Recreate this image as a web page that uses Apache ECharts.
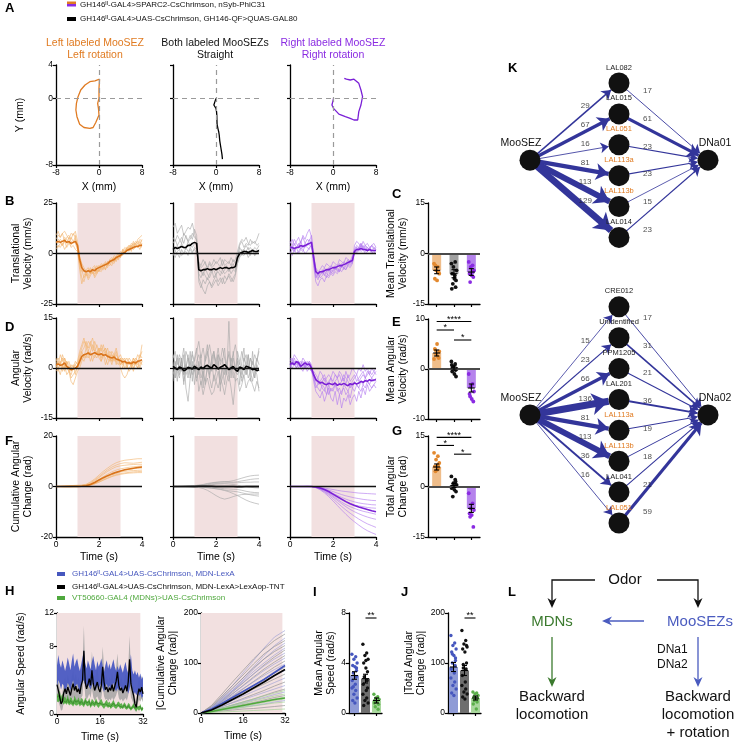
<!DOCTYPE html>
<html><head><meta charset="utf-8"><title>MooSEZ figure</title>
<script src="https://cdn.jsdelivr.net/npm/echarts@6.0.0/dist/echarts.min.js"></script>
<style>html,body{margin:0;padding:0;background:#fff;}#chart{width:736px;height:744px;}</style>
</head><body><div id="chart"></div>
<script>
// ================= DATA =================
// Panel A trajectories (mm)
const trajLeftX = [0.1,0,0,-0.25,-0.1,0,-0.6,-1.1,-1.7,-2.8,-3.6,-4.1,-4.3,-4.2,-3.9,-3.4,-2.6,-1.7,-0.75,0.1];
const trajLeftY = [2.3,1.2,0,-0.6,-1.2,-2.0,-2.9,-3.5,-3.6,-3.5,-3.1,-2.2,-1.4,-0.6,0.2,1.0,1.6,2.0,2.1,2.3];
const trajMidX = [0,-0.2,-0.4,0,0.1,0.15,0.2,0.35,0.5,0.6,0.7,0.9,1.1,1.2];
const trajMidY = [0,-0.4,-0.8,-1.2,-1.6,-2.0,-3.1,-3.6,-4.0,-4.4,-5.1,-5.9,-6.7,-7.3];
const trajRightX = [2.1,2.5,3.2,3.9,4.8,5.2,5.5,5.2,4.8,4.6,3.9,3.2,2.3,1.1,0.1,-0.2,0,0.1];
const trajRightY = [2.4,2.3,2.2,2.3,1.8,1.0,0.2,-0.8,-1.6,-2.6,-2.6,-2.4,-2.2,-1.9,-1.2,-0.8,-0.3,0];

// Panel B translational velocity (mm/s), 0..4 s every 0.1 s
const bOrangeMean = [5.5,6,5.5,6,6.5,5.5,6,5,5.5,6,4, -3,-7,-8.5,-9,-8.5,-9,-8,-8.5,-7.5,-7, -6.5,-6,-5.5,-5,-4,-3.5,-3,-2,-1.5,-1, 0,0.5,1.5,2,2.5,3,3.5,3.5,4,4];
const bOrangeTraces = [
 [7,9,8,10,6,8,9,7,10,8,3, -6,-12,-14,-10,-13,-11,-9,-12,-10,-8, -9,-7,-8,-5,-6,-4,-5,-2,-3,0, 1,0,3,2,5,4,6,5,7,6],
 [4,3,5,4,6,3,5,4,6,5,2, -2,-5,-7,-9,-8,-10,-7,-6,-9,-8, -5,-6,-4,-6,-3,-2,-4,-1,0,-2, 2,1,3,4,2,5,3,4,2,5],
 [9,11,8,10,11,9,7,10,9,11,6, -4,-9,-8,-11,-9,-7,-10,-8,-6,-9, -7,-5,-8,-4,-5,-6,-2,-3,-1,1, 0,2,1,4,3,6,4,7,8,9],
 [2,4,3,5,2,4,6,3,4,2,1, -5,-8,-12,-10,-11,-8,-9,-10,-7,-6, -8,-6,-5,-7,-4,-3,-2,-4,-1,-2, 1,3,2,1,4,2,3,5,4,3],
 [6,5,7,6,8,7,5,8,6,7,5, -1,-6,-9,-8,-7,-10,-9,-11,-8,-9, -6,-7,-6,-4,-5,-3,-4,-2,-3,0, -1,1,2,3,1,4,5,3,6,4],
 [5,7,6,4,7,5,8,6,5,9,2, -8,-15,-11,-9,-12,-10,-8,-7,-10,-6, -7,-8,-5,-6,-3,-4,-1,-2,0,-1, 2,0,3,2,4,3,5,6,4,7]];
const bBlackMean = [2,3,2.5,3,3.5,3,3,4,4,5,5.5, 5,-8,-8.5,-8,-8,-7.5,-8,-8,-7.5,-8, -7.5,-7,-7.5,-7,-7,-7.5,-7,-7,-6.5,-2, 0,0.5,1,1,0.5,1,1.5,1,1,1.5];
const bGrayTraces = [
 [13,15,10,12,14,9,11,13,12,15,10, 6,-12,-15,-18,-20,-16,-14,-17,-15,-13, -16,-14,-12,-15,-13,-11,-14,-12,-10,-3, 4,6,3,5,4,7,5,6,4,5],
 [0,-2,1,2,-1,0,3,1,2,0,3, 2,-5,-7,-6,-4,-8,-5,-7,-6,-4, -5,-7,-3,-6,-5,-4,-6,-3,-5,0, 1,-1,2,0,1,-1,2,1,0,2],
 [5,7,4,6,8,5,9,6,7,10,8, 7,-10,-12,-9,-11,-13,-10,-8,-12,-10, -9,-11,-8,-10,-9,-7,-10,-8,-9,-4, -1,2,0,1,3,0,2,-1,1,0],
 [3,1,4,2,5,3,2,6,4,3,5, 4,-6,-9,-11,-7,-10,-12,-9,-8,-11, -7,-9,-10,-8,-6,-9,-7,-5,-8,-2, 3,1,2,4,2,3,1,3,2,4],
 [8,6,9,7,5,10,8,6,9,7,12, 9,-14,-17,-13,-15,-12,-14,-16,-13,-11, -14,-12,-15,-11,-13,-10,-12,-14,-11,-5, -2,0,-1,1,-2,0,1,-1,0,1],
 [-1,1,0,-2,2,0,1,-1,3,1,2, 0,-4,-6,-3,-5,-7,-4,-6,-3,-5, -4,-2,-6,-3,-4,-5,-2,-4,-3,1, 5,7,6,8,5,4,6,5,7,10]];
const bPurpleMean = [3,3,2.5,3,3,4,3.5,4,4.5,5,5.5, -2,-9,-10,-9,-9,-8.5,-8,-8,-7.5,-7, -7,-6.5,-6,-6,-5.5,-5,-4.5,-4,-3.5,1, 2,2,2.5,2,2,1.5,2,1.5,1.5,1.5];
const bPurpleTraces = [
 [5,7,4,6,8,5,9,7,10,12,8, -6,-14,-16,-13,-12,-14,-11,-12,-10,-11, -9,-10,-8,-9,-7,-8,-6,-7,-5,2, 4,3,5,2,4,3,2,4,3,2],
 [1,-1,2,0,1,3,2,0,1,3,4, -1,-7,-9,-8,-6,-7,-5,-6,-7,-4, -5,-6,-3,-4,-5,-2,-3,-4,-1,1, 3,1,4,2,3,1,2,0,1,0],
 [6,4,7,5,3,6,8,5,7,6,9, 0,-10,-12,-11,-9,-10,-12,-8,-9,-10, -8,-7,-9,-6,-7,-8,-5,-6,-4,4, 6,5,3,6,4,5,3,4,5,3],
 [2,4,1,3,5,2,4,3,5,4,6, -3,-8,-11,-9,-10,-7,-9,-8,-6,-7, -8,-6,-5,-7,-4,-5,-3,-4,-2,0, 1,3,2,4,1,3,2,4,2,3],
 [4,2,5,3,4,6,3,5,4,7,5, -4,-12,-10,-12,-11,-9,-10,-11,-8,-9, -7,-8,-9,-6,-7,-5,-6,-4,-5,1, 3,2,5,3,4,2,3,1,3,2],
 [0,2,1,3,0,2,1,4,3,2,5, -5,-11,-13,-10,-8,-11,-9,-7,-10,-8, -6,-9,-7,-5,-8,-6,-4,-5,-3,2, 0,3,1,2,0,1,2,1,0,2]];

// Panel D angular velocity (rad/s), 0..4 s every 0.1 s
const dOrangeMean = [1,1.2,0.8,1,1.5,0.5,0,-0.5,-0.3,0,0.5, 2,3.5,4,4.2,4.5,4,4.3,4.6,4.2,4, 4.3,3.8,4,3.5,3.2,3,3.3,2.7,2.5,2.2, 1.8,2,1.5,1.6,1.3,1.8,1.5,2,2.2,2.5];
const dOrangeTraces = [
 [2,3,1,4,2,0,-1,-2,0,1,2, 5,7,9,6,8,7,5,8,6,4, 7,5,6,3,5,4,2,4,3,1, 3,2,0,2,1,3,2,4,3,5],
 [-1,0,-2,1,-1,2,0,-3,-2,-1,0, 1,3,2,4,3,5,2,4,3,5, 2,4,3,1,3,2,4,1,3,0, -2,-3,-2,0,1,-1,2,0,1,2],
 [3,1,4,2,3,1,2,0,1,-2,1, 3,5,6,8,5,7,9,6,4,6, 5,7,4,6,3,5,4,6,3,4, 2,3,1,3,2,0,2,1,3,7],
 [0,2,1,-1,1,-2,-1,-4,-5,-3,-1, 0,2,4,3,5,2,4,3,5,3, 2,4,1,3,2,4,3,2,1,3, 0,2,1,-1,0,2,1,0,2,1],
 [1,-1,2,0,3,1,-1,1,0,2,1, 4,6,8,7,6,8,6,5,7,5, 6,4,5,3,4,2,3,5,2,3, 1,2,3,1,2,1,3,2,4,3],
 [2,0,1,3,0,2,1,-1,0,1,0, 2,5,3,6,4,5,7,5,4,6, 3,5,6,4,3,1,4,2,3,1, 2,0,1,2,0,3,1,2,0,2]];
const dBlackMean = [0.5,0,-0.5,0.3,0,-0.8,-0.5,0.2,0,-0.3,0.5, 0,-0.5,0.3,-0.2,0.5,0.8,0.3,0,1,0.5, -0.3,0.2,0.5,1,0.3,-0.5,0,0.5,-0.5,-1, 0.3,0,-0.5,0.5,0.3,0,-0.5,-0.3,-0.8,-0.5];
const dGrayTraces = [
 [2,-3,4,-1,3,-5,1,-2,5,-4,3, 6,-2,4,-6,3,7,-3,2,5,-1, 4,-7,2,6,-2,14,-3,5,-1,3, -5,2,6,-2,4,-4,5,-3,2,6],
 [-2,1,-4,3,-1,4,-6,-10,-3,2,-5, 1,-7,-4,-8,-5,-3,-6,-8,-7,-4, -6,-3,-5,-8,-4,-2,-6,-11,-4,-3, -7,-5,-2,-6,-4,-3,-5,-7,-4,-6],
 [4,1,3,0,2,-2,5,3,0,4,2, 5,8,3,6,2,4,7,3,5,1, 4,2,6,3,0,5,2,4,7,3, 1,5,2,4,0,3,1,4,2,5],
 [-1,-3,0,-2,1,-4,-1,-3,0,-2,1, -3,-1,-5,-2,-4,0,-3,-6,-2,-4, -1,-5,-3,0,-2,-4,1,-3,-1,-2, 0,-4,-2,1,-3,-1,-4,0,-2,-7],
 [3,5,1,4,2,6,0,3,1,5,-1, 2,4,1,-2,3,5,2,-1,4,2, 6,1,3,-2,2,4,0,3,-1,5, 2,-2,3,1,4,-1,2,0,3,1],
 [-4,2,-1,-3,3,-2,0,4,-3,1,-1, -4,2,-3,-1,-5,1,-2,3,-4,-1, 2,-3,0,-5,1,-2,3,-1,-4,2, -1,-3,1,-2,0,3,-1,-3,1,-1]];
const dPurpleMean = [1,1.5,1,2,1.5,0.5,1,1.5,1,1.2,0, -2,-3.5,-4,-4.5,-4.3,-4.8,-5,-4.6,-4.8,-5, -4.5,-5.2,-4.8,-5,-4.6,-5,-5.3,-4.7,-5,-4.5, -4.8,-4.5,-4,-4.3,-3.8,-4,-3.5,-3.8,-3.6,-3.5];
const dPurpleTraces = [
 [2,3,1,2,0,1,2,0,1,2,0, -4,-7,-8,-9,-7,-10,-8,-6,-9,-10, -7,-11,-8,-12,-9,-10,-8,-11,-9,-8, -10,-7,-9,-6,-8,-5,-7,-6,-5,-6],
 [0,1,2,0,2,1,0,1,-1,0,-1, -1,-2,-3,-1,-2,-4,-3,-2,-3,-1, -2,-3,-1,-2,-4,-1,-3,-2,0,-1, -2,0,-1,1,-1,0,-2,0,-1,0],
 [3,2,4,3,2,1,3,2,1,2,1, -3,-5,-6,-7,-5,-6,-8,-5,-7,-6, -5,-7,-6,-8,-5,-6,-7,-5,-6,-4, -5,-6,-4,-5,-3,-4,-5,-3,-4,-3],
 [1,0,1,2,1,0,-1,1,0,1,-1, -2,-4,-3,-5,-4,-3,-5,-4,-3,-5, -4,-3,-2,-4,-3,-5,-2,-4,-3,-2, -4,-3,-2,-1,-3,-2,-1,-2,-1,-2],
 [2,1,3,1,2,0,1,2,1,0,-1, -3,-6,-5,-4,-6,-7,-5,-8,-6,-7, -5,-6,-8,-7,-6,-8,-7,-9,-6,-7, -5,-6,-7,-5,-6,-4,-5,-6,-5,-4],
 [0,2,1,0,1,2,1,0,2,1,0, -2,-3,-5,-4,-3,-2,-4,-5,-3,-4, -2,-3,-5,-4,-2,-3,-4,-6,-4,-3, -2,-4,-3,-2,-3,-1,-2,-3,-2,-1]];

// Panel F cumulative angular change (rad), 0..4 s every 0.2 s
const fOrangeMean = [0,0,0,0,0,0,0.1,0.3,0.8,1.6,2.6,3.5,4.3,5,5.6,6.1,6.6,6.9,7.2,7.5,7.7];
const fOrangeTraces = [
 [0,0,0,0.1,0.2,0.3,0.5,0.9,1.8,3,4.5,6,7.3,8.5,9.4,10,10.4,10.6,10.8,11,11],
 [0,0,0.1,0.1,0.2,0.3,0.4,0.7,1.4,2.6,3.9,5.3,6.6,7.7,8.5,9.1,9.4,9.3,9.2,9.4,9.6],
 [0,0.1,0.1,0.2,0.3,0.3,0.4,0.6,1.2,2.2,3.5,4.8,6.0,7.0,7.8,8.2,8.4,8.6,8.7,8.8,8.8],
 [0,0,0,0,0.1,0.1,0.2,0.4,0.9,1.7,2.8,3.9,4.9,5.8,6.5,7.0,7.3,7.6,7.8,8.0,8.1],
 [0,0,0,0.1,0.1,0.2,0.2,0.3,0.7,1.3,2.1,3.0,3.9,4.6,5.2,5.7,6.0,6.2,6.3,6.4,6.5],
 [0,0,-0.1,-0.1,0,0.1,0.2,0.3,0.6,1.1,1.8,2.6,3.4,4.1,4.7,5.1,5.4,5.6,5.8,5.9,6.0],
 [0,0.1,0.2,0.3,0.4,0.5,0.5,0.6,0.9,1.5,2.4,3.3,4.2,5.0,5.6,6.1,6.5,6.8,7.0,7.2,7.3],
 [0,0,0,0,0,0.1,0.1,0.2,0.5,1.0,1.7,2.5,3.2,3.9,4.4,4.8,5.1,5.3,5.4,5.5,5.5]];
const fBlackMean = [0,0,0,0,0,0,0.1,0.1,0.1,0.1,0,0,0,0,0,-0.1,-0.1,0,0,0,0];
const fGrayTraces = [
 [0,0,0,0.1,0.2,0.3,0.5,0.8,1.2,1.5,1.7,1.8,1.9,2.0,2.3,2.8,3.3,3.8,4.2,4.4,4.5],
 [0,0,0.1,0.2,0.3,0.4,0.5,0.7,1.0,1.3,1.6,1.8,1.9,1.8,1.7,1.9,2.2,2.5,2.8,3.0,3.1],
 [0,0,0,0,0,0.1,0.2,0.4,0.7,1.0,1.2,1.3,1.4,1.5,1.4,1.5,1.6,1.7,1.7,1.8,1.8],
 [0,0,0,0,-0.1,-0.2,-0.4,-0.8,-1.5,-2.5,-3.6,-4.5,-5.0,-4.6,-4.0,-3.5,-3.2,-3.1,-3.0,-3.0,-3.0],
 [0,0,0,0,0,-0.1,-0.1,-0.2,-0.4,-0.6,-0.9,-1.2,-1.6,-2.1,-2.8,-3.6,-4.5,-5.4,-6.1,-6.6,-7.0],
 [0,0,0,0,0,0,0,-0.1,-0.2,-0.3,-0.5,-0.7,-0.9,-1.0,-1.1,-1.2,-1.5,-1.9,-2.2,-2.4,-2.5],
 [0,0,0,0,0.1,0.1,0.2,0.3,0.5,0.7,0.9,1.0,1.1,1.0,0.8,0.5,0.2,-0.1,-0.3,-0.5,-0.6],
 [0,0,0,0,0,-0.1,-0.2,-0.3,-0.5,-0.7,-0.9,-1.1,-1.4,-1.7,-1.9,-2.1,-2.5,-2.9,-3.3,-3.6,-3.8]];
const fPurpleMean = [0,0,0,0,0,0,-0.2,-0.6,-1.2,-2,-3,-4,-5,-6,-6.8,-7.5,-8.1,-8.6,-9.1,-9.6,-10];
const fPurpleTraces = [
 [0,0,0,0,0,0,-0.1,-0.3,-0.6,-0.9,-1.2,-1.5,-1.8,-2.0,-2.2,-2.4,-2.6,-2.7,-2.8,-2.9,-3.0],
 [0,0,0,0,0,0,-0.2,-0.5,-0.9,-1.4,-2.0,-2.6,-3.2,-3.7,-4.1,-4.5,-4.8,-5.1,-5.3,-5.5,-5.6],
 [0,0,0,0,0.1,0,-0.2,-0.6,-1.2,-1.9,-2.7,-3.5,-4.3,-5.0,-5.6,-6.1,-6.5,-6.8,-7.0,-7.2,-7.3],
 [0,0,0,0,0,0,-0.3,-0.8,-1.5,-2.4,-3.4,-4.4,-5.3,-6.1,-6.8,-7.3,-7.7,-8.0,-8.3,-8.5,-8.6],
 [0,0,0,0,0,0,-0.3,-0.8,-1.6,-2.6,-3.8,-5.0,-6.2,-7.2,-8.0,-8.7,-9.3,-9.8,-10.2,-10.6,-11.0],
 [0,0,0,0,0,0,-0.4,-1.0,-1.9,-3.0,-4.2,-5.5,-6.8,-8.0,-9.1,-10.0,-10.8,-11.5,-12.1,-12.6,-13.0],
 [0,0,0,0,0,0,-0.4,-1.1,-2.1,-3.4,-4.9,-6.4,-7.9,-9.3,-10.6,-11.8,-12.9,-13.9,-14.8,-15.5,-16.2],
 [0,0,0,0,0,-0.1,-0.5,-1.3,-2.5,-4.0,-5.7,-7.5,-9.3,-11.0,-12.6,-14.0,-15.3,-16.5,-17.5,-18.3,-19.0]];

// Panels C, E, G (groups: left, both, right)
const cMeans = [-5, -6, -5.5], cSems = [1, 1.2, 1];
const cDots = [[-3,-4,-5,-6,-7.5,-8,-5.5,-3.5],[-3,-2.5,-4,-5,-6,-7.5,-8,-9,-10,-10.5,-6.5],[-2.5,-3.5,-4,-5,-6,-6.5,-7,-8.5,-5.5]];
const eMeans = [3.2, 0.2, -3.8], eSems = [0.6, 0.4, 0.8];
const eDots = [[2,2.5,3,3.5,4,5,2.2,3.8],[1.5,1,0.5,0,-0.5,-1,-1.5,0.3,-0.2,0.8],[-1,-3,-3.5,-4.5,-5,-6,-6.5,-5.5]];
const gMeans = [5.8, 0.3, -6.5], gSems = [0.9, 0.6, 1.2];
const gDots = [[10,9,8,7,6,5,5.5,4.5,6.5],[3,2,1,0.5,0,-1,-1.5,-3,1.5,-0.5],[-2,-5,-6.5,-7,-8,-8.5,-12,-9]];
const eSig = [[0,2,9.5],[0,1,7.8],[1,2,5.8]], eSigLabels = ['****','*','*'];
const gSig = [[0,2,14.6],[0,1,12.2],[1,2,9.6]], gSigLabels = ['****','*','*'];

// Panel H (angular speed, 0..32 s every 0.5 s)
const hBlueMean = [4.5,5.5,4.8,4.2,5.0,4.6,3.8,4.4,5.2,4.7, 4.0,4.9,5.6,4.3,4.8,5.1,4.4,3.9,4.6,5.3, 5.8,4.7,4.2,5.0,4.5,4.1,4.8,5.4,4.6,4.0, 4.9,4.3,4.7,5.2,4.4,3.8,4.5,5.0,4.2,4.7, 4.1,4.6,5.1,4.3,3.9,4.4,4.0,4.6,4.2,3.7, 4.3,4.8,4.1,3.6,4.2,5.5,4.0,3.5,3.9,3.4, 3.8,3.2,3.6,3.0,3.3];
const hBlueSem = [1.3,1.5,1.2,1.3,1.4,1.2,1.3,1.4,1.5,1.3, 1.2,1.4,1.6,1.3,1.4,1.5,1.3,1.2,1.3,1.4, 1.8,1.3,1.2,1.4,1.3,1.2,1.4,1.5,1.3,1.2, 1.4,1.3,1.3,1.4,1.3,1.2,1.3,1.4,1.2,1.3, 1.2,1.3,1.4,1.3,1.2,1.3,1.2,1.3,1.2,1.2, 1.3,1.4,1.2,1.2,1.3,1.6,1.2,1.2,1.3,1.2, 1.2,1.1,1.2,1.1,1.2];
const hBlackMean = [3.5,2.8,2.0,1.2,1.5,2.5,3.0,2.4,3.2,2.7, 2.2,3.0,3.6,2.8,3.3,2.6,3.0,2.4,3.4,4.0, 7.5,3.8,3.0,3.5,4.2,3.4,5.2,3.6,2.8,3.3, 3.8,3.0,2.6,3.4,5.6,3.8,2.9,3.2,2.6,3.1, 2.8,3.5,2.7,3.3,3.9,5.0,3.4,2.8,3.1,2.5, 2.9,3.4,2.7,3.8,6.5,3.6,2.8,2.2,1.2,0.8, 2.2,3.0,2.6,3.2,2.4];
const hBlackSem = [1.5,1.3,1.0,0.8,1.0,1.2,1.4,1.2,1.5,1.3, 1.1,1.4,1.6,1.3,1.5,1.2,1.4,1.1,1.5,1.8, 3.0,1.7,1.3,1.5,1.8,1.5,2.2,1.6,1.2,1.4, 1.7,1.3,1.1,1.5,2.4,1.7,1.2,1.4,1.1,1.3, 1.2,1.5,1.1,1.4,1.7,2.2,1.5,1.2,1.3,1.0, 1.2,1.5,1.1,1.6,2.8,1.6,1.2,1.0,0.8,0.6, 1.0,1.3,1.1,1.4,1.0];
const hGreenMean = [2.0,1.8,2.2,1.6,1.9,1.5,1.7,1.4,1.8,1.3, 1.6,1.5,1.2,1.7,1.4,1.3,1.6,1.2,1.5,1.4, 1.1,1.6,1.3,1.2,1.5,1.0,1.4,1.3,1.1,1.5, 1.2,1.0,1.3,1.4,1.1,0.9,1.2,1.3,1.0,1.2, 0.9,1.1,1.3,1.0,0.8,1.1,1.2,0.9,1.0,0.8, 1.1,0.9,0.7,1.0,0.9,0.6,0.8,1.0,0.7,0.5, 0.8,0.6,0.9,0.5,0.7];
const hGreenSem = [0.5,0.4,0.6,0.4,0.5,0.4,0.4,0.3,0.5,0.3, 0.4,0.4,0.3,0.5,0.4,0.3,0.4,0.3,0.4,0.4, 0.3,0.4,0.3,0.3,0.4,0.3,0.4,0.3,0.3,0.4, 0.3,0.3,0.3,0.4,0.3,0.3,0.3,0.4,0.3,0.3, 0.3,0.3,0.4,0.3,0.2,0.3,0.3,0.3,0.3,0.2, 0.3,0.3,0.2,0.3,0.3,0.2,0.2,0.3,0.2,0.2, 0.2,0.2,0.3,0.2,0.2];
// H right: |cumulative angular change| sampled every 4 s
const hCumTimes = [0,4,8,12,16,20,24,28,32];
const hCumTraces = [
 [0,12,32,55,80,105,130,152,165],[0,15,38,62,85,108,128,145,158],[0,10,28,48,70,92,115,135,150],
 [0,14,34,55,76,98,118,133,145],[0,8,24,44,66,88,108,126,140],[0,12,30,50,70,90,108,123,135],
 [0,10,26,45,64,83,100,116,130],[0,9,24,42,60,78,96,112,126],[0,11,27,44,61,78,94,108,120],
 [0,8,22,38,55,72,88,102,115],[0,10,24,39,54,70,85,98,110],[0,7,19,33,48,63,78,92,104],
 [0,9,22,35,49,62,75,87,98],[0,6,17,29,42,55,68,80,92],[0,8,19,30,42,53,64,75,85],
 [0,6,15,26,37,48,58,68,78],[0,7,16,25,34,43,52,61,70],[0,5,13,21,29,37,45,54,62],
 [0,6,13,20,27,34,41,48,55],[0,4,10,16,22,28,35,42,48],[0,5,10,15,20,26,31,37,42],
 [0,3,8,12,17,21,26,31,35],[0,3,6,9,12,15,18,22,25],[0,2,4,6,8,9,11,13,15]];
const hCumGreenTraces = [[0,4,10,16,22,28,34,40,45],[0,4,9,14,19,24,29,34,38],[0,3,7,12,16,20,24,28,32],[0,3,6,10,13,17,21,25,28],[0,2,5,8,11,14,17,20,22],[0,1,2,3,4,5,6,7,8]];
const hCumBlueMean = [0,8,19,31,43,55,67,81,95];
const hCumBlackMean = [0,6,16,27,38,50,62,75,87];
const hCumGreenMean = [0,3,7,11,15,19,23,27,30];

// Panels I, J (groups: MDN-LexA, MDN-LexA>TNT, MDNs)
const iMeans = [3.0, 2.75, 1.0], iSems = [0.3, 0.35, 0.2];
const iDots = [[4.7,4.5,4.3,4.0,3.8,3.7,3.4,3.2,2.9,2.6,2.3,2.0,1.8,1.5,1.2,1.0,0.8,3.6,2.1],[5.5,4.8,4.6,4.3,4.0,3.6,3.3,2.9,2.6,2.3,1.8,1.5,1.2,1.0,0.8,0.6,4.2,2.0],[1.5,1.3,1.2,1.1,1.0,0.9,0.7,0.5,0.3,0.8]];
const jMeans = [92, 85, 30], jSems = [9, 10, 4];
const jDots = [[155,140,135,128,122,115,110,100,95,88,80,70,62,55,48,40,35,105,118],[165,145,138,132,128,122,100,97,88,75,62,55,48,42,38,32,28,135,90],[42,40,38,35,32,30,28,25,22,18,8]];
const iSig = [[1,2,7.6]], jSig = [[1,2,190]], ijSigLabels = ['**'];

// Panel K connectivity (synapse counts)
const kTopMids = ['LAL082','LAL015','LAL051','LAL113a','LAL113b','LAL014'];
const kTopIn = [29,67,16,81,113,129];
const kTopOut = [17,61,23,23,15,23];
const kBotMids = ['CRE012','Unidentified','PPM1205','LAL201','LAL113a','LAL113b','LAL041','LAL051'];
const kBotIn = [15,23,66,136,81,113,36,16];
const kBotOut = [17,31,21,36,19,18,21,59];
const kOrangeNames = ['LAL051','LAL113a','LAL113b'];

// ================= STYLE / BUILD =================
const FONT = '"Liberation Sans", Arial, Helvetica, sans-serif';
const ORANGE = '#E07B22', ORANGE_L = '#F2B570', PURPLE = '#7A1FD6', PURPLE_L = '#B37CF0', PURPLE_T = '#8A2BE2';
const GRAY_L = '#A9A9A9', PINK = '#F2E0E0', EDGE = '#33359A';
const BLUE = '#4657BE', GREEN = '#4FA83D';
const option = {animation:false, backgroundColor:'#fff', textStyle:{fontFamily:FONT}, grid:[], xAxis:[], yAxis:[], series:[], graphic:[]};

function addGrid(l,t,w,h){ option.grid.push({left:l,top:t,width:w,height:h}); return option.grid.length-1; }
const LAB = (show,extra)=>Object.assign({show:show,fontSize:8.5,color:'#000',margin:3,fontFamily:FONT},extra||{});
const TICK = (extra)=>Object.assign({show:true,length:3,lineStyle:{color:'#000',width:1.2}},extra||{});
function axisBase(g){ return {gridIndex:g, splitLine:{show:false}, axisLine:{show:true,onZero:false,lineStyle:{color:'#000',width:1.3}}, axisTick:TICK(), axisLabel:LAB(true), nameTextStyle:{fontSize:10.5,color:'#000',lineHeight:12,fontFamily:FONT}}; }
function addX(g,o){ option.xAxis.push(Object.assign(axisBase(g),{type:'value'},o)); return option.xAxis.length-1; }
function addY(g,o){ option.yAxis.push(Object.assign(axisBase(g),{type:'value'},o)); return option.yAxis.length-1; }
function addLine(xi,yi,data,color,width,opacity,z,extra){ option.series.push(Object.assign({type:'line',xAxisIndex:xi,yAxisIndex:yi,data:data,symbol:'none',showSymbol:false,silent:true,z:z,lineStyle:{color:color,width:width,opacity:opacity}},extra||{})); }

const cols = [56,173,290];

// ---- A ----
[[trajLeftX,trajLeftY,ORANGE],[trajMidX,trajMidY,'#000'],[trajRightX,trajRightY,PURPLE]].forEach((tr,c)=>{
  const g = addGrid(cols[c],65,86,100);
  const xi = addX(g,{min:-8,max:8,interval:8,axisLabel:LAB(true),name:'X (mm)',nameLocation:'middle',nameGap:16});
  const yi = addY(g,{min:-8,max:4,axisTick:TICK({customValues:[-8,0,4]}),axisLabel:LAB(c===0,{customValues:[-8,0,4]}),name:c===0?'Y (mm)':'',nameLocation:'middle',nameRotate:90,nameGap:30});
  addLine(xi,yi,tr[0].map((x,i)=>[x,tr[1][i]]),tr[2],1.3,1,3,{
    markLine:{silent:true,symbol:'none',label:{show:false},lineStyle:{type:[5,4],color:'#9a9a9a',width:1.2},data:[{xAxis:0},{yAxis:0}]}});
});

// ---- B, D, F ----
function timeRow(top,h,ymin,ymax,yint,yName,showX,sets,dt){
  sets.forEach((s,c)=>{
    const g = addGrid(cols[c],top,86,h);
    const xi = addX(g,{min:0,max:4,interval:2,axisLabel:LAB(showX),name:showX?'Time (s)':'',nameLocation:'middle',nameGap:14});
    const yi = addY(g,{min:ymin,max:ymax,interval:yint,axisLabel:LAB(c===0),name:c===0?yName:'',nameLocation:'middle',nameRotate:90,nameGap:22});
    addLine(xi,yi,s.mean.map((v,i)=>[i*dt,v]),'#fff',0,0,1,{markArea:{silent:true,itemStyle:{color:PINK},data:[[{xAxis:1},{xAxis:3}]]}});
    s.traces.forEach(tr=>addLine(xi,yi,tr.map((v,i)=>[i*dt,v]),s.light,0.8,0.8,2));
    addLine(xi,yi,s.mean.map((v,i)=>[i*dt,v]),s.dark,1.6,1,3,{
      markLine:{silent:true,symbol:'none',label:{show:false},lineStyle:{type:'solid',color:'#111',width:1.4},data:[{yAxis:0}]}});
  });
}
timeRow(203,101,-25,25,25,'Translational\nVelocity (mm/s)',false,[
  {mean:bOrangeMean,traces:bOrangeTraces,light:ORANGE_L,dark:'#D9731A'},
  {mean:bBlackMean,traces:bGrayTraces,light:GRAY_L,dark:'#000'},
  {mean:bPurpleMean,traces:bPurpleTraces,light:PURPLE_L,dark:PURPLE}],0.1);
timeRow(318,100,-15,15,15,'Angular\nVelocity (rad/s)',false,[
  {mean:dOrangeMean,traces:dOrangeTraces,light:ORANGE_L,dark:'#D9731A'},
  {mean:dBlackMean,traces:dGrayTraces,light:GRAY_L,dark:'#000'},
  {mean:dPurpleMean,traces:dPurpleTraces,light:PURPLE_L,dark:PURPLE}],0.1);
timeRow(436,101,-20,20,20,'Cumulative Angular\nChange (rad)',true,[
  {mean:fOrangeMean,traces:fOrangeTraces,light:ORANGE_L,dark:'#D9731A'},
  {mean:fBlackMean,traces:fGrayTraces,light:GRAY_L,dark:'#000'},
  {mean:fPurpleMean,traces:fPurpleTraces,light:PURPLE_L,dark:PURPLE}],0.2);

// ---- bar panels ----
function errRender(params,api){
  const x=api.value(0), m=api.value(1), s=api.value(2);
  const t=api.coord([x,m+s]), b=api.coord([x,m-s]), c=api.coord([x,m]);
  const st={stroke:'#000',lineWidth:1.1};
  return {type:'group',children:[
    {type:'line',shape:{x1:t[0],y1:t[1],x2:b[0],y2:b[1]},style:st},
    {type:'line',shape:{x1:t[0]-2.5,y1:t[1],x2:t[0]+2.5,y2:t[1]},style:st},
    {type:'line',shape:{x1:b[0]-2.5,y1:b[1],x2:b[0]+2.5,y2:b[1]},style:st},
    {type:'line',shape:{x1:c[0]-3.5,y1:c[1],x2:c[0]+3.5,y2:c[1]},style:st}]};
}
function barPanel(p){
  const g = addGrid(p.left,p.top,p.w,p.h);
  option.xAxis.push(Object.assign(axisBase(g),{type:'category',data:['g1','g2','g3'],axisTick:TICK({alignWithLabel:true}),axisLabel:LAB(false)}));
  const xi = option.xAxis.length-1;
  const yi = addY(g,{min:p.min,max:p.max,interval:p.int,axisLabel:LAB(true),name:p.name,nameLocation:'middle',nameRotate:90,nameGap:p.gap});
  const bs = {type:'bar',xAxisIndex:xi,yAxisIndex:yi,barWidth:p.barW,silent:true,z:2,data:p.means.map((v,i)=>({value:v,itemStyle:{color:p.barCols[i]}}))};
  if(p.zero) bs.markLine = {silent:true,symbol:'none',label:{show:false},lineStyle:{type:'solid',color:'#4a4a4a',width:2},data:[{yAxis:0}]};
  option.series.push(bs);
  const jit=[-2.6,1.2,-0.6,2.6,-1.8,0.4,2,-1.2,1.6,-2.2,0.8];
  p.dots.forEach((arr,k)=>option.series.push({type:'scatter',xAxisIndex:xi,yAxisIndex:yi,silent:true,z:4,symbolSize:p.dotSize,itemStyle:{color:p.dotCols[k],opacity:1},
    data:arr.map((v,j)=>({value:[k,v],symbolOffset:[jit[j%jit.length],0]}))}));
  option.series.push({type:'custom',xAxisIndex:xi,yAxisIndex:yi,silent:true,z:5,data:p.means.map((m,i)=>[i,m,p.sems[i]]),renderItem:errRender});
  if(p.sig){
    option.series.push({type:'custom',xAxisIndex:xi,yAxisIndex:yi,silent:true,z:5,clip:false,encode:{x:[0,1],y:2},data:p.sig,
      renderItem:(params,api)=>{
        const a=api.coord([api.value(0),api.value(2)]), b=api.coord([api.value(1),api.value(2)]);
        return {type:'group',children:[
          {type:'line',shape:{x1:a[0],y1:a[1],x2:b[0],y2:b[1]},style:{stroke:'#000',lineWidth:1.1}},
          {type:'text',style:{text:p.sigLabels[params.dataIndex],x:(a[0]+b[0])/2,y:a[1]+2.5,align:'center',verticalAlign:'bottom',fontSize:9,fontFamily:FONT,fill:'#000'}}]};
      }});
  }
}
const cgBar = ['#EFBD8A','#A0A0A0','#B583EC'], cgDot = ['#E3892F','#111','#8A2BE2'];
barPanel({left:428,top:203,w:52,h:101,min:-15,max:15,int:15,name:'Mean Translational\nVelocity (mm/s)',gap:17,means:cMeans,sems:cSems,dots:cDots,barCols:cgBar,dotCols:cgDot,barW:9,zero:true,dotSize:3.8});
barPanel({left:428,top:319,w:52,h:100,min:-10,max:10,int:10,name:'Mean Angular\nVelocity (rad/s)',gap:17,means:eMeans,sems:eSems,dots:eDots,barCols:cgBar,dotCols:cgDot,barW:9,zero:true,dotSize:3.8,sig:eSig,sigLabels:eSigLabels});
barPanel({left:428,top:436,w:52,h:101,min:-15,max:15,int:15,name:'Total Angular\nChange (rad)',gap:17,means:gMeans,sems:gSems,dots:gDots,barCols:cgBar,dotCols:cgDot,barW:9,zero:true,dotSize:3.8,sig:gSig,sigLabels:gSigLabels});
const ijBar = ['#8F9BD6','#6E6E6E','#A9D79D'], ijDot = [BLUE,'#111','#5BB04A'];
barPanel({left:349,top:613,w:33,h:100,min:0,max:8,int:4,name:'Mean Angular\nSpeed (rad/s)',gap:11,means:iMeans,sems:iSems,dots:iDots,barCols:ijBar,dotCols:ijDot,barW:9,zero:false,dotSize:3.4,sig:iSig,sigLabels:ijSigLabels});
barPanel({left:448,top:613,w:33,h:100,min:0,max:200,int:100,name:'|Total Angular\nChange (rad)|',gap:20,means:jMeans,sems:jSems,dots:jDots,barCols:ijBar,dotCols:ijDot,barW:9,zero:false,dotSize:3.4,sig:jSig,sigLabels:ijSigLabels});

// ---- H left ----
const gHL = addGrid(57,613,86,101);
const xHL = addX(gHL,{min:0,max:32,interval:16,axisLabel:LAB(true),name:'Time (s)',nameLocation:'middle',nameGap:17});
const yHL = addY(gHL,{min:0,max:12,axisTick:TICK({customValues:[0,8,12]}),axisLabel:LAB(true,{customValues:[0,8,12]}),name:'Angular Speed (rad/s)',nameLocation:'middle',nameRotate:90,nameGap:30});
addLine(xHL,yHL,hBlueMean.map((v,i)=>[i*0.5,v]),'#fff',0,0,1,{markArea:{silent:true,itemStyle:{color:PINK},data:[[{xAxis:0},{xAxis:31}]]}});
function band(xi,yi,mean,sem,color,opacity,z){
  option.series.push({type:'custom',xAxisIndex:xi,yAxisIndex:yi,silent:true,z:z,
    data:mean.map((m,i)=>[i*0.5,m-sem[i],m+sem[i]]),encode:{x:0,y:[1,2]},
    renderItem:(params,api)=>{
      if(params.dataIndex!==0) return null;
      const up=[],lo=[];
      mean.forEach((m,i)=>{ up.push(api.coord([i*0.5,m+sem[i]])); lo.push(api.coord([i*0.5,m-sem[i]])); });
      return {type:'polygon',shape:{points:up.concat(lo.reverse())},style:{fill:color,opacity:opacity}};
    }});
}
band(xHL,yHL,hBlackMean,hBlackSem,'#A0A0A0',0.8,2);
band(xHL,yHL,hBlueMean,hBlueSem,'#4A5AC2',0.95,3);
band(xHL,yHL,hGreenMean,hGreenSem,'#55AE43',0.95,4);
addLine(xHL,yHL,hGreenMean.map((v,i)=>[i*0.5,v]),'#3F8F2F',1,1,5);
addLine(xHL,yHL,hBlackMean.map((v,i)=>[i*0.5,v]),'#000',1.3,1,6);

// ---- H right ----
const gHR = addGrid(201,613,84,100);
const xHR = addX(gHR,{min:0,max:32,interval:16,axisLabel:LAB(true),name:'Time (s)',nameLocation:'middle',nameGap:17});
const yHR = addY(gHR,{min:0,max:200,interval:100,axisLabel:LAB(true),name:'|Cumulative Angular\nChange (rad)|',nameLocation:'middle',nameRotate:90,nameGap:22});
addLine(xHR,yHR,hCumBlueMean.map((v,i)=>[hCumTimes[i],v]),'#fff',0,0,1,{markArea:{silent:true,itemStyle:{color:PINK},data:[[{xAxis:0},{xAxis:31}]]}});
hCumTraces.forEach((tr,k)=>addLine(xHR,yHR,tr.map((v,i)=>[hCumTimes[i],v]),k%2?'#8C8C8C':'#9A9ED6',0.7,0.9,2));
hCumGreenTraces.forEach(tr=>addLine(xHR,yHR,tr.map((v,i)=>[hCumTimes[i],v]),'#9ED08F',0.7,0.9,2));
addLine(xHR,yHR,hCumGreenMean.map((v,i)=>[hCumTimes[i],v]),'#4FA83D',1.6,1,4);
addLine(xHR,yHR,hCumBlueMean.map((v,i)=>[hCumTimes[i],v]),BLUE,1.6,1,4);
addLine(xHR,yHR,hCumBlackMean.map((v,i)=>[hCumTimes[i],v]),'#000',1.6,1,5);

// ---- K network ----
const gK = addGrid(530,83,178,440);
option.xAxis.push({type:'value',gridIndex:gK,min:0,max:2,show:false}); const kx = option.xAxis.length-1;
option.yAxis.push({type:'value',gridIndex:gK,min:0,max:14.25,inverse:true,show:false}); const ky = option.yAxis.length-1;
const ew = w=>Math.max(0.8,w/19), es = w=>7+w/14;
function buildNet(prefix,mids,ins,outs,rowStart,srcRow,dnaName){
  const nodes=[],links=[],labs=[];
  nodes.push({name:prefix+'S',value:[0,srcRow],label:{formatter:'MooSEZ',fontSize:10.5,color:'#111',offset:[-9,0]}});
  mids.forEach((m,i)=>nodes.push({name:prefix+i,value:[1,rowStart+i],label:{formatter:m,color:kOrangeNames.includes(m)?ORANGE:'#222'}}));
  nodes.push({name:prefix+'D',value:[2,srcRow],label:{formatter:dnaName,fontSize:10.5,color:'#111',offset:[7,0]}});
  mids.forEach((m,i)=>{
    const r=rowStart+i, t=0.62;
    links.push({source:prefix+'S',target:prefix+i,lineStyle:{width:ew(ins[i])},symbolSize:es(ins[i])});
    links.push({source:prefix+i,target:prefix+'D',lineStyle:{width:ew(outs[i])},symbolSize:es(outs[i])});
    labs.push({value:[t,srcRow+t*(r-srcRow)],label:{formatter:String(ins[i]),offset:[0,-7]}});
    labs.push({value:[1.32,r+0.1*(srcRow-r)],label:{formatter:String(outs[i])}});
  });
  return {nodes,links,labs};
}
[buildNet('t',kTopMids,kTopIn,kTopOut,0,2.5,'DNa01'),buildNet('b',kBotMids,kBotIn,kBotOut,7.25,10.75,'DNa02')].forEach(net=>{
  option.series.push({type:'graph',coordinateSystem:'cartesian2d',xAxisIndex:kx,yAxisIndex:ky,layout:'none',silent:true,z:4,
    symbol:'circle',symbolSize:21,itemStyle:{color:'#111'},edgeSymbol:['none','arrow'],edgeSymbolSize:10,
    lineStyle:{color:EDGE,opacity:1,curveness:0},
    label:{show:true,position:'top',distance:1,fontSize:7.5,color:'#222',fontFamily:FONT},
    data:net.nodes,links:net.links});
  option.series.push({type:'scatter',xAxisIndex:kx,yAxisIndex:ky,silent:true,z:6,symbolSize:1,itemStyle:{color:'rgba(0,0,0,0)'},
    label:{show:true,position:'inside',fontSize:8,color:'#222',fontFamily:FONT},data:net.labs});
});

// ---- texts / legends / schematic L ----
const G = option.graphic;
function txt(text,x,y,o){ G.push({type:'text',silent:true,z:100,style:Object.assign({text:text,x:x,y:y,fill:'#111',fontSize:10.5,fontFamily:FONT,align:'center',verticalAlign:'middle'},o||{})}); }
[['A',5,8],['B',5,201],['C',392,194],['D',5,327],['E',392,322],['F',5,441],['G',392,431],['H',5,591],['I',313,592],['J',401,592],['K',508,68],['L',508,592]]
  .forEach(l=>txt(l[0],l[1],l[2],{fontWeight:'bold',fontSize:13,align:'left',fill:'#000'}));
// top legend
G.push({type:'rect',silent:true,shape:{x:67,y:1.5,width:9,height:2.5},style:{fill:ORANGE}});
G.push({type:'rect',silent:true,shape:{x:67,y:4,width:9,height:2.5},style:{fill:PURPLE_T}});
txt('GH146\u1D35\u1D35-GAL4>SPARC2-CsChrimson, nSyb-PhiC31',80,5,{fontSize:8,align:'left'});
G.push({type:'rect',silent:true,shape:{x:67,y:17,width:9,height:4},style:{fill:'#000'}});
txt('GH146\u1D35\u1D35-GAL4>UAS-CsChrimson, GH146-QF>QUAS-GAL80',80,19,{fontSize:8,align:'left'});
// A titles
txt('Left labeled MooSEZ',95,43,{fill:ORANGE}); txt('Left rotation',95,55,{fill:ORANGE});
txt('Both labeled MooSEZs',215,43); txt('Straight',215,55);
txt('Right labeled MooSEZ',333,43,{fill:PURPLE_T}); txt('Right rotation',333,55,{fill:PURPLE_T});
// H legend
[[BLUE,'GH146\u1D35\u1D35-GAL4>UAS-CsChrimson, MDN-LexA',BLUE,574],['#000','GH146\u1D35\u1D35-GAL4>UAS-CsChrimson, MDN-LexA>LexAop-TNT','#111',587],[GREEN,'VT50660-GAL4 (MDNs)>UAS-CsChrimson',GREEN,598]]
  .forEach(l=>{ G.push({type:'rect',silent:true,shape:{x:57,y:l[3]-2,width:8,height:4},style:{fill:l[0]}}); txt(l[1],72,l[3],{fontSize:8,align:'left',fill:l[2]}); });
// L schematic
const LB='#4A5BBF', LG='#3B7A2E';
function pl(points,color){ G.push({type:'polyline',silent:true,shape:{points:points},style:{stroke:color,lineWidth:1.3,fill:null}}); }
function headDown(x,y,c){ G.push({type:'polygon',silent:true,shape:{points:[[x,y],[x-4.5,y-10],[x,y-7],[x+4.5,y-10]]},style:{fill:c}}); }
pl([[595,580],[552,580],[552,602]],'#111'); headDown(552,608,'#111');
pl([[657,580],[698,580],[698,602]],'#111'); headDown(698,608,'#111');
pl([[644,621],[609,621]],LB); G.push({type:'polygon',silent:true,shape:{points:[[602,621],[612,616.5],[609,621],[612,625.5]]},style:{fill:LB}});
pl([[552,637],[552,681]],LG); headDown(552,687,LG);
pl([[698,637],[698,681]],LB); headDown(698,687,LB);
txt('Odor',625,580,{fontSize:15});
txt('MDNs',552,622,{fontSize:15,fill:LG}); txt('MooSEZs',700,622,{fontSize:15,fill:LB});
txt('DNa1',657,650,{fontSize:12,align:'left'}); txt('DNa2',657,665,{fontSize:12,align:'left'});
txt('Backward',552,697,{fontSize:15}); txt('locomotion',552,715,{fontSize:15});
txt('Backward',698,697,{fontSize:15}); txt('locomotion',698,715,{fontSize:15}); txt('+ rotation',698,733,{fontSize:15});

const chart = echarts.init(document.getElementById('chart'),null,{renderer:'canvas'});
chart.setOption(option);
</script></body></html>
